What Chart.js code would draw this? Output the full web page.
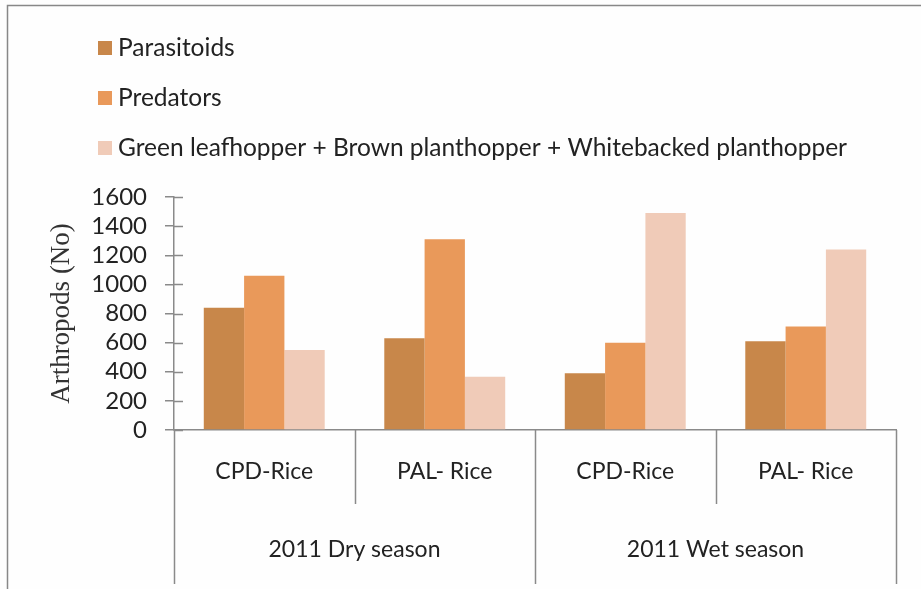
<!DOCTYPE html>
<html><head><meta charset="utf-8">
<script src="https://cdn.jsdelivr.net/npm/chart.js@4/dist/chart.umd.min.js"></script>
<style>html,body{margin:0;padding:0;background:#fff}</style>
</head><body>
<canvas id="c" width="921" height="589"></canvas>
<script>
const categories = ['CPD-Rice', 'PAL- Rice', 'CPD-Rice', 'PAL- Rice'];
const seasons = ['2011 Dry season', '2011 Wet season'];
const seriesNames = ['Parasitoids', 'Predators', 'Green leafhopper + Brown planthopper + Whitebacked planthopper'];
const parasitoids = [840, 630, 390, 610];
const predators = [1060, 1310, 600, 710];
const hoppers = [550, 365, 1490, 1240];
const yTicks = [0, 200, 400, 600, 800, 1000, 1200, 1400, 1600];

const colors = ['#c8874a', '#e9995a', '#f0cbb8'];
const AXIS = '#8a8a8a';
const FONT = 'Lato, "Open Sans", sans-serif';

const decor = {
  id: 'decor',
  beforeDraw(chart) {
    const ctx = chart.ctx;
    ctx.save();
    ctx.fillStyle = '#fefefe';
    ctx.fillRect(0, 0, chart.width, chart.height);
    ctx.restore();
  },
  afterDraw(chart) {
    const ctx = chart.ctx;
    const xs = chart.scales.x, ys = chart.scales.y;
    const area = chart.chartArea;
    ctx.save();
    // inner half of y ticks (cross ticks)
    ctx.strokeStyle = AXIS; ctx.lineWidth = 1.5;
    yTicks.forEach(v => {
      const y = Math.round(ys.getPixelForValue(v)) + 0.5;
      ctx.beginPath(); ctx.moveTo(area.left, y); ctx.lineTo(area.left + 9, y); ctx.stroke();
    });
    // category separators
    const n = categories.length;
    for (let i = 0; i <= n; i++) {
      const x = Math.round(xs.getPixelForValue(i - 0.5)) + 0.5;
      const yEnd = (i % 2 === 0) ? 584 : 504;
      ctx.beginPath(); ctx.moveTo(x, area.bottom); ctx.lineTo(x, yEnd); ctx.stroke();
    }
    // season labels
    ctx.fillStyle = '#222';
    ctx.font = '23px ' + FONT;
    ctx.textAlign = 'center'; ctx.textBaseline = 'middle';
    seasons.forEach((s, k) => {
      const x0 = xs.getPixelForValue(2 * k - 0.5), x1 = xs.getPixelForValue(2 * k + 1.5);
      ctx.fillText(s, (x0 + x1) / 2, 550);
    });
    // legend
    ctx.textAlign = 'left';
    ctx.font = '24.5px ' + FONT;
    chart.data.datasets.forEach((ds, i) => {
      const cy = 48 + i * 50;
      ctx.fillStyle = ds.backgroundColor;
      ctx.fillRect(98, cy - 7, 14, 14);
      ctx.fillStyle = '#222';
      ctx.fillText(ds.label, 118, cy);
    });
    // frame
    ctx.strokeStyle = '#888'; ctx.lineWidth = 1.5;
    ctx.beginPath(); ctx.moveTo(7.5, 600); ctx.lineTo(7.5, 5.5); ctx.lineTo(930, 5.5); ctx.stroke();
    ctx.restore();
  }
};

new Chart(document.getElementById('c'), {
  type: 'bar',
  data: {
    labels: categories,
    datasets: [
      { label: seriesNames[0], data: parasitoids, backgroundColor: colors[0] },
      { label: seriesNames[1], data: predators, backgroundColor: colors[1] },
      { label: seriesNames[2], data: hoppers, backgroundColor: colors[2] }
    ]
  },
  options: {
    responsive: false,
    animation: false,
    devicePixelRatio: 1,
    layout: { padding: { left: 46, right: 25, top: 197, bottom: 0 } },
    datasets: { bar: { categoryPercentage: 0.67, barPercentage: 1.0, borderWidth: 0 } },
    plugins: { legend: { display: false }, tooltip: { enabled: false } },
    scales: {
      x: {
        grid: { display: true, drawOnChartArea: false, drawTicks: false, color: 'rgba(0,0,0,0)' },
        border: { display: true, color: AXIS, width: 1.5 },
        ticks: { font: { family: FONT, size: 23 }, color: '#222', padding: 28, maxRotation: 0 },
        afterFit(scale) { scale.height = 159; }
      },
      y: {
        min: 0, max: 1600,
        afterBuildTicks(scale) { scale.ticks = yTicks.map(v => ({ value: v })); },
        grid: { drawOnChartArea: false, drawTicks: true, tickLength: 9, color: AXIS, lineWidth: 1.5 },
        border: { display: true, color: AXIS, width: 1.5 },
        ticks: { font: { family: FONT, size: 24 }, color: '#222', padding: 18, autoSkip: false, callback: v => String(v) },
        title: { display: true, text: 'Arthropods (No)', font: { family: '"Liberation Serif", serif', size: 27 }, color: '#333', padding: 0 },
        afterFit(scale) { scale.width = 128; }
      }
    }
  },
  plugins: [decor]
});
</script>
</body></html>
